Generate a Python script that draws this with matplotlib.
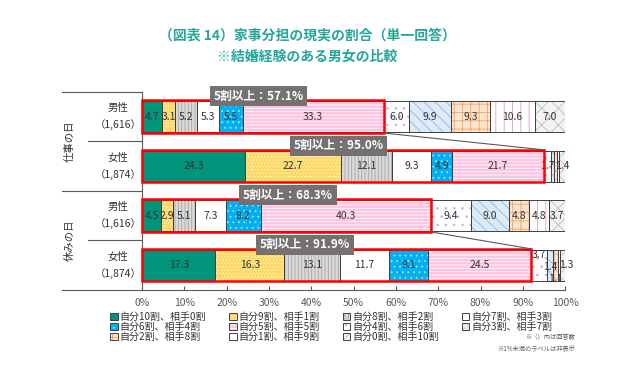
import matplotlib
matplotlib.use("Agg")
import matplotlib.pyplot as plt
from matplotlib.patches import Rectangle, Patch
from matplotlib.transforms import blended_transform_factory
import numpy as np

plt.rcParams['font.family'] = ['Noto Sans CJK JP', 'DejaVu Sans']
plt.rcParams['hatch.linewidth'] = 0.6

# ---------------- data ----------------
categories = ["自分10割、相手0割", "自分9割、相手1割", "自分8割、相手2割", "自分7割、相手3割",
              "自分6割、相手4割", "自分5割、相手5割", "自分4割、相手6割", "自分3割、相手7割",
              "自分2割、相手8割", "自分1割、相手9割", "自分0割、相手10割"]
row_sex = ["男性", "女性", "男性", "女性"]
row_n = ["（1,616）", "（1,874）", "（1,616）", "（1,874）"]
groups = ["仕事の日", "休みの日"]
work_male = [4.7, 3.1, 5.2, 5.3, 5.5, 33.3, 6.0, 9.9, 9.3, 10.6, 7.0]
work_female = [24.3, 22.7, 12.1, 9.3, 4.9, 21.7, 1.7, 0.7, 0.6, 0.6, 1.4]
holiday_male = [4.5, 2.9, 5.1, 7.3, 8.2, 40.3, 9.4, 9.0, 4.8, 4.8, 3.7]
holiday_female = [17.3, 16.3, 13.1, 11.7, 9.1, 24.5, 3.7, 1.4, 1.1, 0.5, 1.3]
over_half = [57.1, 95.0, 68.3, 91.9]
xticks = [0, 10, 20, 30, 40, 50, 60, 70, 80, 90, 100]

rows = [work_male, work_female, holiday_male, holiday_female]

# ---------------- styles ----------------
styles = [
    dict(fc='#00957A', hatch=None, hc=None),
    dict(fc='#FFD966', hatch='.....', hc='#FFF2CC'),
    dict(fc='#D9D9D9', hatch='|||||', hc='#A6A6A6'),
    dict(fc='#FFFFFF', hatch=None, hc=None),
    dict(fc='#00B0F0', hatch='...', hc='#A8E2F8'),
    dict(fc='#FFC4E1', hatch='-----', hc='#FFFFFF'),
    dict(fc='#FFFFFF', hatch='..', hc='#C9B0E3'),
    dict(fc='#DDEBF7', hatch='\\\\\\', hc='#8EB4E3'),
    dict(fc='#FCE4D0', hatch='++', hc='#F4A460'),
    dict(fc='#FFFFFF', hatch='||', hc='#E8A0A0'),
    dict(fc='#F2F2F2', hatch='xx', hc='#BFBFBF'),
]
edge = '#404040'
txt = '#333333'
title_c = '#26A69A'
stagger = [(0, -0.2), (0, 0.03), (0, 0.28), (1.0, 0.0)]

fig = plt.figure(figsize=(6.4, 3.88), dpi=100)
ax = fig.add_axes([0.222, 0.253, 0.661, 0.51])

bh = 0.63
ypos = np.arange(len(rows))
for yi, vals in zip(ypos, rows):
    lefts = np.concatenate([[0], np.cumsum(vals)[:-1]])
    for k, v in enumerate(vals):
        st = styles[k]
        ax.barh(yi, v, left=lefts[k], height=bh, color=st['fc'], edgecolor='none', linewidth=0, zorder=2)
        if st['hatch']:
            ax.barh(yi, v, left=lefts[k], height=bh, color='none', edgecolor=st['hc'],
                    hatch=st['hatch'], linewidth=0, zorder=3)
        ax.barh(yi, v, left=lefts[k], height=bh, color='none', edgecolor=edge, linewidth=0.7, zorder=4)
    # labels (>=1%), staggered where crowded
    lab = [(lefts[k] + v / 2, v) for k, v in enumerate(vals) if v >= 1]
    clusters = []
    for c, v in lab:
        if clusters and c - clusters[-1][-1][0] < 3.0:
            clusters[-1].append((c, v))
        else:
            clusters.append([(c, v)])
    for cl in clusters:
        for i, (c, v) in enumerate(cl):
            dx, dy = stagger[i] if len(cl) > 1 else (0, 0)
            ax.text(c + dx, yi + dy, f"{v:.1f}", ha='center', va='center', fontsize=7.5,
                    color=txt, zorder=6)

# red boxes, labels, connectors
label_x = [27.5, 46.5, 34.5, 38.5]
for yi, cum, lx in zip(ypos, over_half, label_x):
    ax.add_patch(Rectangle((0, yi - 0.33), cum, 0.66, fill=False, edgecolor='#FF0000',
                           linewidth=1.8, zorder=7, clip_on=False))
    ax.text(lx, yi - 0.41, f"5割以上：{cum:.1f}%", ha='center', va='center', fontsize=8.5,
            fontweight='bold', color='white', zorder=9,
            bbox=dict(boxstyle='square,pad=0.3', fc='#767171', ec='none'))
for top in (0, 2):
    ax.plot([over_half[top], over_half[top + 1]], [top + 0.33, top + 1 - 0.33],
            color='#595959', linewidth=0.8, zorder=8)

ax.set_xlim(0, 100)
ax.set_ylim(3.5, -0.5)
ax.set_yticks([])
ax.set_xticks(xticks)
ax.set_xticklabels([f"{t}%" for t in xticks], fontsize=7.5, color='#595959')
ax.tick_params(axis='x', direction='in', length=3, color='#595959', pad=6)
for s in ['top', 'right']:
    ax.spines[s].set_visible(False)
ax.spines['left'].set_color('#595959')
ax.spines['bottom'].set_color('#595959')
ax.spines['left'].set_linewidth(0.8)
ax.spines['bottom'].set_linewidth(0.8)

# left labels and separators
tr = blended_transform_factory(ax.transAxes, ax.transData)
for yi in ypos:
    ax.text(-0.057, yi, f"{row_sex[yi]}\n{row_n[yi]}", transform=tr, ha='center', va='center',
            fontsize=7.5, color=txt, linespacing=1.7)
for yb, x0 in [(-0.5, -0.189), (0.5, -0.128), (1.5, -0.189), (2.5, -0.128), (3.5, -0.189)]:
    ax.plot([x0, 0.0], [yb, yb], transform=tr, color='#595959', linewidth=0.8, clip_on=False)
for g, yc in zip(groups, [0.5, 2.5]):
    ax.text(-0.172, yc, g, transform=tr, rotation=90, ha='center', va='center',
            fontsize=7.5, color=txt)

# titles
fig.text(0.48, 1 - 36 / 388, "（図表 14）家事分担の現実の割合（単一回答）", ha='center', va='center',
         fontsize=10, fontweight='bold', color=title_c)
fig.text(0.48, 1 - 57 / 388, "※結婚経験のある男女の比較", ha='center', va='center',
         fontsize=10, fontweight='bold', color=title_c)

# legend
handles = []
for st in styles:
    base = Patch(facecolor=st['fc'], edgecolor=edge, linewidth=0.7)
    if st['hatch']:
        h = (Patch(facecolor=st['fc'], edgecolor='none'),
             Patch(facecolor='none', edgecolor=st['hc'], hatch=st['hatch'], linewidth=0),
             Patch(facecolor='none', edgecolor=edge, linewidth=0.7))
    else:
        h = base
    handles.append(h)
order = [0, 4, 8, 1, 5, 9, 2, 6, 10, 3, 7]
leg = fig.legend([handles[i] for i in order], [categories[i] for i in order], ncol=4,
                 loc='upper left', bbox_to_anchor=(0.172, 0.196), frameon=False,
                 fontsize=7.2, handlelength=0.75, handleheight=0.75, handletextpad=0.2,
                 columnspacing=2.3, labelspacing=0.0, borderaxespad=0, borderpad=0)
for t in leg.get_texts():
    t.set_color(txt)

fig.text(0.898, 1 - 337 / 388, "※（）内は回答数", ha='right', va='center', fontsize=4.5, color='#595959')
fig.text(0.898, 1 - 348 / 388, "※1%未満のラベルは非表示", ha='right', va='center', fontsize=4.5, color='#595959')

fig.savefig("out.png", dpi=100)
